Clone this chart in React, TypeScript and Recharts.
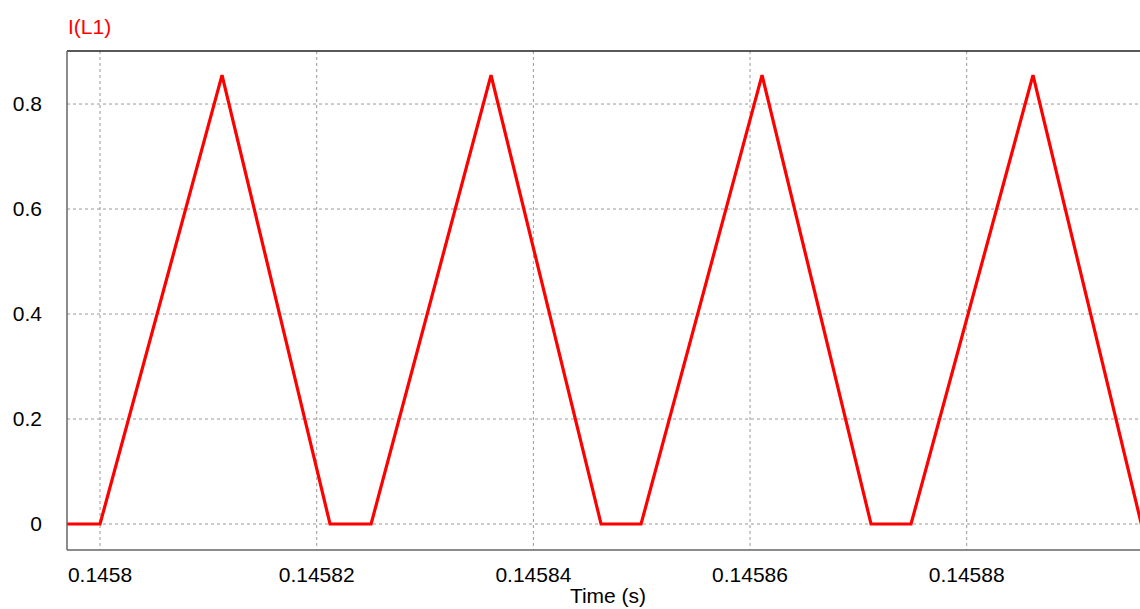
import React from 'react';
import { LineChart, Line, XAxis, YAxis, CartesianGrid, ReferenceLine } from 'recharts';

// simulated inductor current, vertices
const timeValues = [
  0.14579695, 0.1458, 0.14581126, 0.14582123, 0.14582502, 0.14583609, 0.14584625,
  0.14584994, 0.14586111, 0.14587117, 0.14587486, 0.14588612, 0.14589612, 0.14589692,
];
const currentValues = [
  0, 0, 0.855, 0, 0, 0.855, 0,
  0, 0.855, 0, 0, 0.855, 0, 0,
];

const xTicks = [0.1458, 0.14582, 0.14584, 0.14586, 0.14588];
const xTickLabels = ['0.1458', '0.14582', '0.14584', '0.14586', '0.14588'];
const yTicks = [0, 0.2, 0.4, 0.6, 0.8];
const yTickLabels = ['0', '0.2', '0.4', '0.6', '0.8'];

const X_MIN = 0.14579695;
const X_MAX = 0.14589692;
const Y_MIN = -0.0495;
const Y_MAX = 0.901;

const data = timeValues.map((t, i) => ({ t, i: currentValues[i] }));

const FONT = '"Liberation Sans", Arial, sans-serif';
const tickStyle = { fill: '#000', fontSize: 21, fontFamily: FONT };

export default function App() {
  return (
    <div
      style={{
        position: 'absolute',
        left: 0,
        top: 0,
        width: 1140,
        height: 609,
        overflow: 'hidden',
        background: '#fff',
        fontFamily: FONT,
      }}
    >
      <div
        style={{
          position: 'absolute',
          left: 68,
          top: 17,
          fontSize: 21,
          lineHeight: '20px',
          color: '#ff0000',
        }}
      >
        I(L1)
      </div>

      <LineChart width={1150} height={609} data={data} margin={{ top: 51, right: 0, bottom: 0, left: 0 }}>
        <CartesianGrid stroke="#999" strokeDasharray="3 3" horizontalValues={yTicks} verticalValues={xTicks} />
        <XAxis
          dataKey="t"
          type="number"
          domain={[X_MIN, X_MAX]}
          ticks={xTicks}
          allowDataOverflow
          height={59}
          tickSize={0}
          tickMargin={17}
          tick={tickStyle}
          axisLine={{ stroke: '#666', strokeWidth: 1.5 }}
          tickFormatter={(v: number) => xTickLabels[xTicks.indexOf(v)] ?? String(v)}
        />
        <YAxis
          type="number"
          domain={[Y_MIN, Y_MAX]}
          ticks={yTicks}
          allowDataOverflow
          width={67}
          tickSize={0}
          tickMargin={25}
          tick={tickStyle}
          axisLine={{ stroke: '#666', strokeWidth: 1.5 }}
          tickFormatter={(v: number) => yTickLabels[yTicks.indexOf(v)] ?? String(v)}
        />
        <ReferenceLine y={Y_MAX} stroke="#222" strokeWidth={1.5} ifOverflow="visible" />
        <Line
          dataKey="i"
          type="linear"
          stroke="#ff0000"
          strokeWidth={3.2}
          dot={false}
          activeDot={false}
          isAnimationActive={false}
        />
      </LineChart>

      <div
        style={{
          position: 'absolute',
          left: 508,
          top: 586,
          width: 200,
          textAlign: 'center',
          fontSize: 21,
          lineHeight: '20px',
          color: '#000',
        }}
      >
        Time (s)
      </div>
    </div>
  );
}
